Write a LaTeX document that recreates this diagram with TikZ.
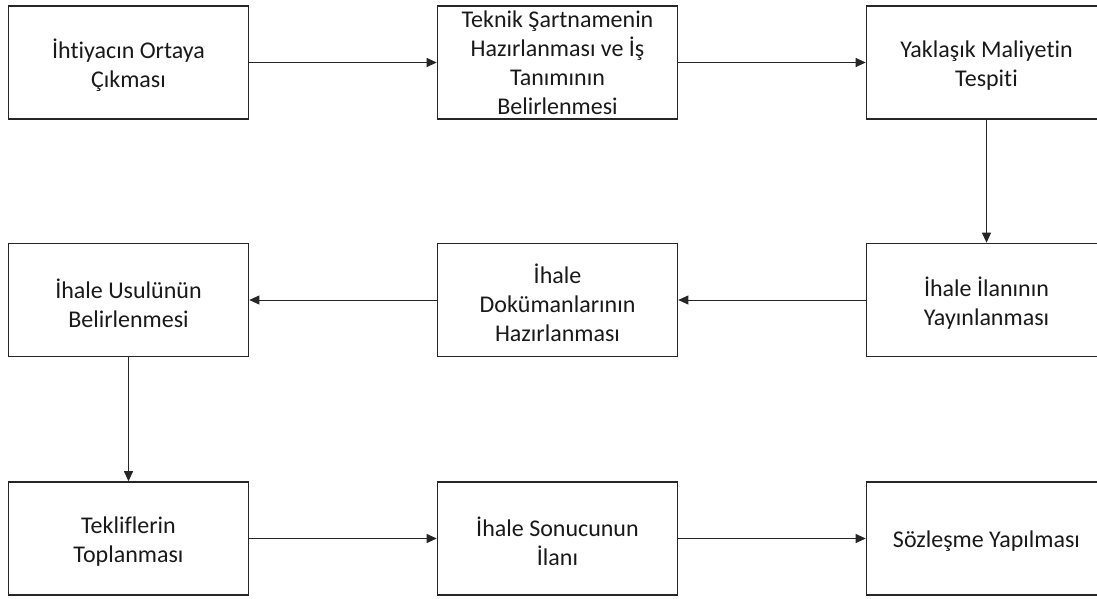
\documentclass[tikz,border=0pt]{standalone}
\usepackage{fontspec}
\setmainfont[Ligatures=CommonOff]{Carlito}
\usetikzlibrary{arrows.meta}
\begin{document}
\begin{tikzpicture}[x=1pt,y=-1pt,
  stepbox/.style 2 args={draw=black!85, line width=1.6pt, minimum width=240pt,
    minimum height=113pt, inner sep=0pt,
    label={[align=center, text=black!90, yshift=#1,
      font=\fontsize{24}{29}\selectfont]center:#2}},
  arr/.style={draw=black!85, line width=0.9pt,
    -{Triangle[length=10pt,width=9pt]}}]
\useasboundingbox (0,0) rectangle (1097,599);
% row 1
\node[stepbox={-3pt}{İhtiyacın Ortaya\\Çıkması}] (b1) at (128.5,62.5) {};
\node[stepbox={-0.5pt}{Teknik Şartnamenin\\Hazırlanması ve İş\\Tanımının\\Belirlenmesi}] (b2) at (557.5,62.5) {};
\node[stepbox={-3pt}{Yaklaşık Maliyetin\\Tespiti}] (b3) at (986.5,62.5) {};
% row 2
\node[stepbox={-3pt}{İhale Usulünün\\Belirlenmesi}] (b4) at (128.5,300) {};
\node[stepbox={-3pt}{İhale\\Dokümanlarının\\Hazırlanması}] (b5) at (557.5,300) {};
\node[stepbox={-3pt}{İhale İlanının\\Yayınlanması}] (b6) at (986.5,300) {};
% row 3
\node[stepbox={-3pt}{Tekliflerin\\Toplanması}] (b7) at (128.5,538.5) {};
\node[stepbox={-3pt}{İhale Sonucunun\\İlanı}] (b8) at (557.5,538.5) {};
\node[stepbox={-3pt}{Sözleşme Yapılması}] (b9) at (986.5,538.5) {};
% connectors
\draw[arr] (b1) -- (b2);
\draw[arr] (b2) -- (b3);
\draw[arr] (b3) -- (b6);
\draw[arr] (b6) -- (b5);
\draw[arr] (b5) -- (b4);
\draw[arr] (b4) -- (b7);
\draw[arr] (b7) -- (b8);
\draw[arr] (b8) -- (b9);
\end{tikzpicture}
\end{document}
